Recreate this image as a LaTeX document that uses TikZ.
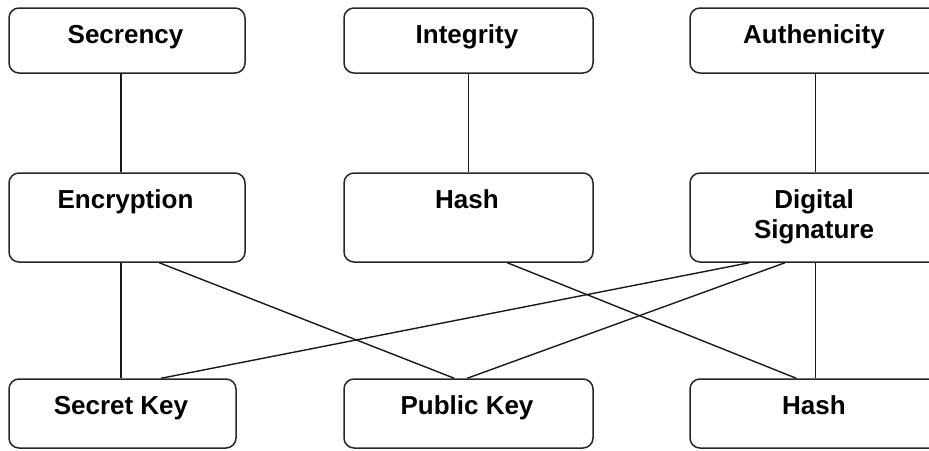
\documentclass[tikz,border=0pt]{standalone}
\usepackage{fontspec}
\setmainfont{Liberation Sans}
\begin{document}
\begin{tikzpicture}[x=1pt, y=-1pt,
  box/.style={draw=black!85, line width=1.5pt, rounded corners=10pt,
    rectangle, inner sep=0pt, minimum width=#1},
  box/.default=249pt,
  top/.style={minimum height=65pt},
  mid/.style={minimum height=89pt},
  bot/.style={minimum height=69pt},
  lbl/.style={inner sep=0pt, anchor=base, yshift=-36.5pt, xshift=-1.5pt,
    font=\fontsize{26}{30}\selectfont\bfseries},
  link/.style={draw=black!90, line width=1.4pt}]
\useasboundingbox (0,0) rectangle (929,450);

% goals
\node[box=236pt, top, label={[lbl]north:Secrency}]    (secr)  at (127,40.5)   {};
\node[box, top,        label={[lbl]north:Integrity}]   (integ) at (468.5,40.5) {};
\node[box=251pt, top, label={[lbl]north:Authenicity}] (auth)  at (815.5,40.5) {};

% mechanisms
\node[box=236pt, mid, label={[lbl]north:Encryption}] (enc)   at (127,217.5)   {};
\node[box, mid,       label={[lbl]north:Hash}]       (hashm) at (468.5,217.5) {};
\node[box=251pt, mid, label={[lbl]north:{\begin{tabular}[t]{@{}c@{}}Digital\\Signature\end{tabular}}}] (dsig) at (815.5,217.5) {};

% primitives
\node[box=227pt, bot, label={[lbl]north:Secret Key}] (skey)  at (122.5,413.5) {};
\node[box, bot,       label={[lbl]north:Public Key}] (pkey)  at (468.5,413.5) {};
\node[box=251pt, bot, label={[lbl]north:Hash}]       (hashb) at (815.5,413.5) {};

% goal -> mechanism
\draw[link] ([xshift=112.7pt]secr.south west) -- ([xshift=112.7pt]enc.north west);
\draw[link] (integ.south) -- (hashm.north);
\draw[link] (auth.south) -- (dsig.north);

% mechanism -> primitive
\draw[link] ([xshift=112.7pt]enc.south west) -- ([xshift=112.7pt]skey.north west);
\draw[link] ([xshift=151pt]enc.south west) -- ([xshift=111pt]pkey.north west);
\draw[link] ([xshift=60pt]dsig.south west) -- ([xshift=153pt]skey.north west);
\draw[link] ([xshift=95.7pt]dsig.south west) -- ([xshift=124pt]pkey.north west);
\draw[link] ([xshift=164pt]hashm.south west) -- ([xshift=107pt]hashb.north west);
\draw[link] (dsig.south) -- (hashb.north);
\end{tikzpicture}
\end{document}
